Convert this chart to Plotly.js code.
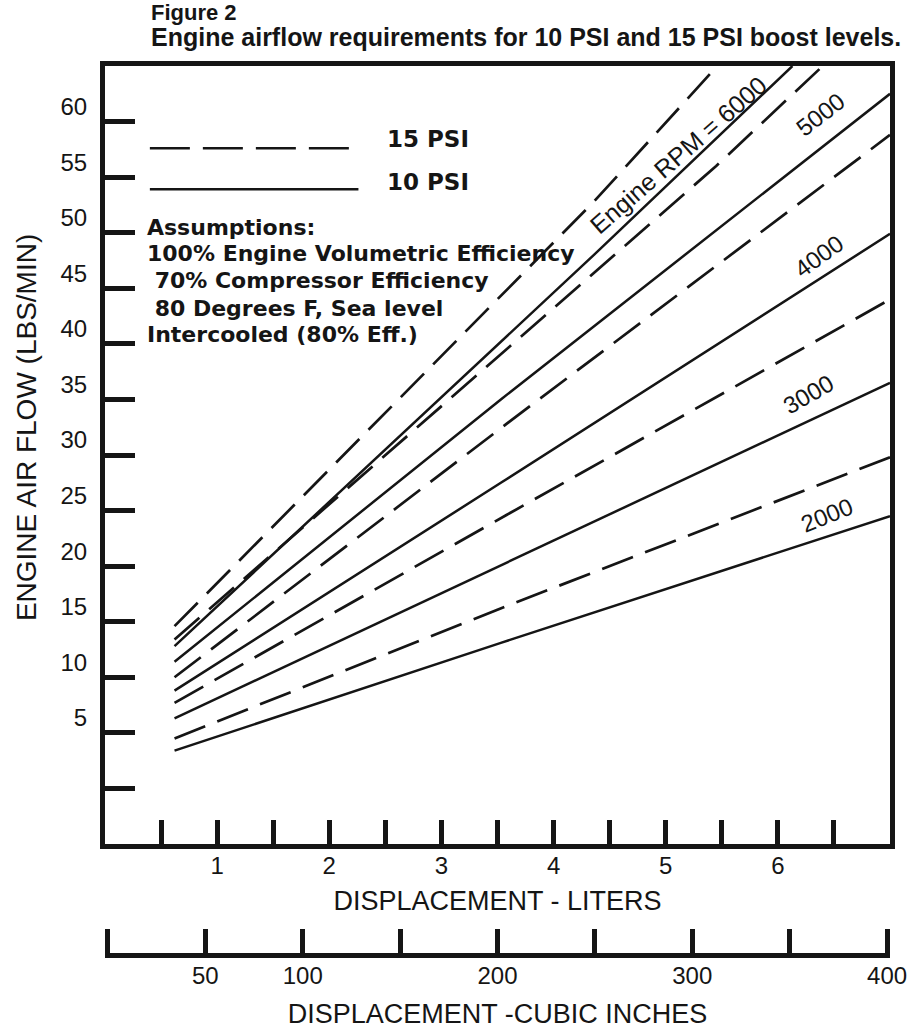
<!DOCTYPE html>
<html>
<head>
<meta charset="utf-8">
<script src="https://cdn.plot.ly/plotly-3.0.1.min.js"></script>
<style>html,body{margin:0;padding:0;background:#fff;}</style>
</head>
<body>
<div id="chart" style="width:913px;height:1029px;"></div>
<script>
// ---- data ----
const rpmLabels = ['2000', '3000', '4000', '5000', '6000'];

// 10 PSI (solid) lines: displacement (liters) and air flow (lbs/min)
const psi10X = [[0.62, 3.53, 7.0], [0.62, 3.53, 7.0], [0.62, 3.53, 7.0], [0.62, 3.53, 7.0], [0.62, 4.36, 6.13]];
const psi10Y = [[3.4, 13.1, 24.5], [6.3, 20.1, 36.5], [8.8, 27.5, 49.9], [11.4, 35.0, 62.5], [12.8, 48.0, 65.0]];

// 15 PSI (dashed) lines
const psi15X = [[0.62, 3.58, 7.0], [0.62, 3.58, 7.0], [0.62, 3.58, 7.0], [0.62, 5.45, 6.40], [0.62, 4.36, 5.46]];
const psi15Y = [[4.5, 16.4, 29.8], [7.7, 24.6, 44.0], [10.0, 32.8, 58.8], [13.4, 56.0, 65.0], [14.6, 52.8, 65.0]];

// axis ticks
const litersTickVals = [0.5, 1, 1.5, 2, 2.5, 3, 3.5, 4, 4.5, 5, 5.5, 6, 6.5];
const litersTickText = ['', '1', '', '2', '', '3', '', '4', '', '5', '', '6', ''];
const flowTickVals = [0, 5, 10, 15, 20, 25, 30, 35, 40, 45, 50, 55, 60];
const flowTickText = ['', '5', '10', '15', '20', '25', '30', '35', '40', '45', '50', '55', '60'];
const ciTickVals = [0, 50, 100, 150, 200, 250, 300, 350, 400];
const ciTickText = ['', '50', '100', '', '200', '', '300', '', '400'];

const titleLines = ['Figure 2', 'Engine airflow requirements for 10 PSI and 15 PSI boost levels.'];
const legendLabels = ['15 PSI', '10 PSI'];
const assumptions = ['Assumptions:', '100% Engine Volumetric Efficiency', '&nbsp;70% Compressor Efficiency',
                     '&nbsp;80 Degrees F, Sea level', 'Intercooled (80% Eff.)'];

// ---- styles ----
const INK = '#151515';
const ARIAL = 'Liberation Sans, Arial, Helvetica, sans-serif';
const WIDE = 'DejaVu Sans, Verdana, sans-serif';
const DASH = '33px,13px';

const traces = [];
for (let i = 0; i < rpmLabels.length; i++) {
  traces.push({
    x: psi10X[i], y: psi10Y[i], type: 'scatter', mode: 'lines', name: '10 PSI ' + rpmLabels[i],
    line: {color: INK, width: 2.5}, showlegend: false, hoverinfo: 'skip'
  });
  traces.push({
    x: psi15X[i], y: psi15Y[i], type: 'scatter', mode: 'lines', name: '15 PSI ' + rpmLabels[i],
    line: {color: INK, width: 2.7, dash: DASH}, showlegend: false, hoverinfo: 'skip'
  });
}
// helper so the cubic-inch axis is built
traces.push({
  x: ciTickVals, y: ciTickVals.map(() => null), xaxis: 'x2', yaxis: 'y', type: 'scatter',
  mode: 'markers', marker: {opacity: 0}, showlegend: false, hoverinfo: 'skip'
});

const axisCommon = {
  showgrid: false, zeroline: false, showline: true, linecolor: INK, linewidth: 5,
  ticks: 'inside', tickcolor: INK, tickwidth: 5, tickmode: 'array',
  tickfont: {family: ARIAL, size: 24, color: INK}
};

// assumptions text line centres (lbs/min units)
const assumptionY = [50.5, 48.1, 45.7, 43.2, 40.8];

const annotations = [
  {xref: 'paper', yref: 'paper', x: (149 - 105) / 785, y: (955 - 12) / 889, xanchor: 'left', yanchor: 'middle',
   showarrow: false, text: titleLines[0], font: {family: ARIAL, size: 22, color: INK, weight: 'bold'}},
  {xref: 'paper', yref: 'paper', x: (149 - 105) / 785, y: (955 - 37) / 889, xanchor: 'left', yanchor: 'middle',
   showarrow: false, text: titleLines[1], font: {family: ARIAL, size: 25, color: INK, weight: 'bold'}},
  {xref: 'x', yref: 'y', x: 2.50, y: 58.4, xanchor: 'left', yanchor: 'middle', showarrow: false,
   text: legendLabels[0], font: {family: WIDE, size: 23, color: INK, weight: 'bold'}},
  {xref: 'x', yref: 'y', x: 2.50, y: 54.6, xanchor: 'left', yanchor: 'middle', showarrow: false,
   text: legendLabels[1], font: {family: WIDE, size: 23, color: INK, weight: 'bold'}},
  {xref: 'paper', yref: 'paper', x: -0.099, y: 0.593, xanchor: 'center', yanchor: 'middle', textangle: -90,
   showarrow: false, text: 'ENGINE AIR FLOW (LBS/MIN)', font: {family: ARIAL, size: 28, color: INK}},
  {xref: 'x', yref: 'y', x: 5.11, y: 57.0, textangle: -41, showarrow: false,
   text: 'Engine RPM = ' + rpmLabels[4], font: {family: ARIAL, size: 25, color: INK}},
  {xref: 'x', yref: 'y', x: 6.38, y: 60.6, textangle: -38, showarrow: false,
   text: rpmLabels[3], font: {family: ARIAL, size: 24, color: INK}},
  {xref: 'x', yref: 'y', x: 6.36, y: 47.9, textangle: -36, showarrow: false,
   text: rpmLabels[2], font: {family: ARIAL, size: 24, color: INK}},
  {xref: 'x', yref: 'y', x: 6.27, y: 35.4, textangle: -30, showarrow: false,
   text: rpmLabels[1], font: {family: ARIAL, size: 24, color: INK}},
  {xref: 'x', yref: 'y', x: 6.43, y: 24.6, textangle: -22, showarrow: false,
   text: rpmLabels[0], font: {family: ARIAL, size: 24, color: INK}}
];
assumptions.forEach((t, i) => {
  annotations.push({xref: 'x', yref: 'y', x: 0.36, y: assumptionY[i], xanchor: 'left', yanchor: 'middle',
    showarrow: false, text: t, font: {family: WIDE, size: 22, color: INK, weight: 'bold'}});
});

const shapes = [
  {type: 'line', xref: 'x', yref: 'y', x0: 0.40, x1: 2.26, y0: 57.6, y1: 57.6,
   line: {color: INK, width: 2.5, dash: '40px,13px'}},
  {type: 'line', xref: 'x', yref: 'y', x0: 0.40, x1: 2.26, y0: 53.9, y1: 53.9,
   line: {color: INK, width: 2.5}}
];

const layout = {
  width: 913, height: 1029,
  margin: {l: 105, r: 23, t: 66, b: 74},
  paper_bgcolor: '#fff', plot_bgcolor: '#fff',
  showlegend: false,
  xaxis: Object.assign({}, axisCommon, {
    range: [0, 7], anchor: 'y', mirror: true, ticklen: 24,
    tickvals: litersTickVals, ticktext: litersTickText, ticklabelstandoff: -4,
    title: {text: 'DISPLACEMENT - LITERS', font: {family: ARIAL, size: 27, color: INK}, standoff: 15}
  }),
  xaxis2: Object.assign({}, axisCommon, {
    range: [-1.5, 401.5], overlaying: 'x', anchor: 'free', position: 0, side: 'bottom', ticklen: 24,
    tickvals: ciTickVals, ticktext: ciTickText, ticklabelstandoff: -3,
    title: {text: 'DISPLACEMENT -CUBIC INCHES', font: {family: ARIAL, size: 27, color: INK}, standoff: 16}
  }),
  yaxis: Object.assign({}, axisCommon, {
    range: [-5, 65], domain: [(955 - 844) / 889, 1], mirror: true, ticklen: 30,
    tickvals: flowTickVals, ticktext: flowTickText, ticklabelshift: -15, ticklabelstandoff: 8
  }),
  shapes: shapes,
  annotations: annotations
};

Plotly.newPlot('chart', traces, layout, {displayModeBar: false, staticPlot: true});
</script>
</body>
</html>
